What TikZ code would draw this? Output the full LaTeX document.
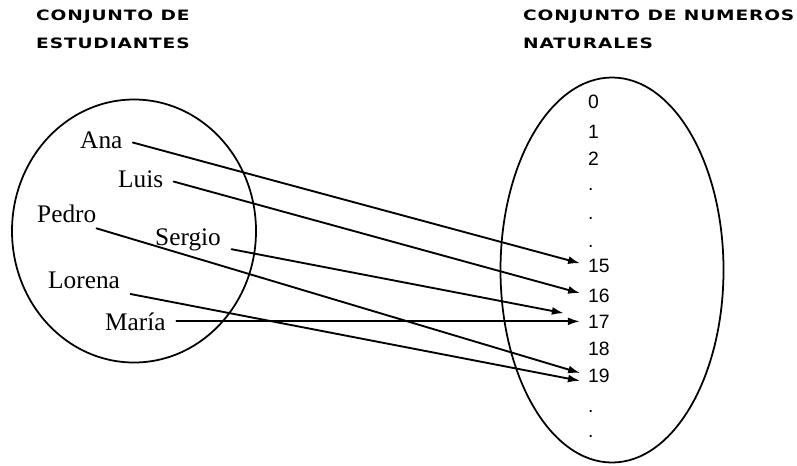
\documentclass[tikz,border=0pt]{standalone}
\usepackage{fontspec}
\usepackage{tikz}
\usetikzlibrary{arrows.meta}
\setmainfont{Liberation Serif}
\newfontfamily\titlefont[FakeStretch=1.3, LetterSpace=6]{DejaVu Sans Bold}
\newfontfamily\numfont{Liberation Sans}

\begin{document}
\begin{tikzpicture}[
			x=0.03cm, y=-0.03cm,
			line cap=round,
			line join=round,
			settitle/.style={font=\titlefont\fontsize{12.2}{12}\selectfont, anchor=base west, inner sep=0},
			student/.style={font=\fontsize{21.6}{21}\selectfont, anchor=base west, inner sep=0},
			num/.style={font=\numfont\fontsize{16.5}{16}\selectfont, anchor=base west, inner sep=0},
			setline/.style={line width=1.5pt},
			maparrow/.style={-{Latex[length=3.6mm, width=2.4mm]}, line width=1.6pt, shorten <=9pt, shorten >=7pt}
			]
			\useasboundingbox (0,0) rectangle (797,465);
			
			% Titles
			\node[settitle] (tA1) at (36,20) {CONJUNTO DE};
			\node[settitle] (tA2) at (36,48) {ESTUDIANTES};
			\node[settitle] (tN1) at (523,20) {CONJUNTO DE NUMEROS};
			\node[settitle] (tN2) at (523,48) {NATURALES};
			
			% Sets
			\draw[setline] (134,231) ellipse [x radius=122, y radius=131.5];
			\draw[setline] (612,270) ellipse [x radius=111.5, y radius=192.5];
			
			% Students
			\node[student] (ana) at (80,148) {Ana};
			\node[student] (luis) at (118,187) {Luis};
			\node[student] (pedro) at (37,222) {Pedro};
			\node[student] (sergio) at (155,245) {Sergio};
			\node[student] (lorena) at (48,288) {Lorena};
			\node[student] (maria) at (105,330) {María};
			
			% Numbers
			\foreach \n/\y in {0/108,1/138,2/165,15/272,16/302,17/328,18/355,19/382}
			\node[num] (n\n) at (588,\y) {\n};
			
			\foreach \y [count=\i] in {190,219,247,412,437}
			\node[num] (dot\i) at (588,\y) {.};
			
			% Mapping
			\draw[maparrow] (ana.east) -- (n15.west);
			\draw[maparrow] (luis.east) -- (n16.west);
			\draw[maparrow, shorten <=0pt] ([yshift=-5pt]pedro.south east) -- (n19.west);
			\draw[maparrow, shorten >=21pt] ([yshift=3pt]sergio.south east) -- ([yshift=3pt]n17.west);
			\draw[maparrow] ([yshift=-3pt]lorena.south east) -- ([yshift=-6pt]n19.west);
			\draw[maparrow] (maria.east) -- (maria.east -| n17.west);
		\end{tikzpicture}
\end{document}
